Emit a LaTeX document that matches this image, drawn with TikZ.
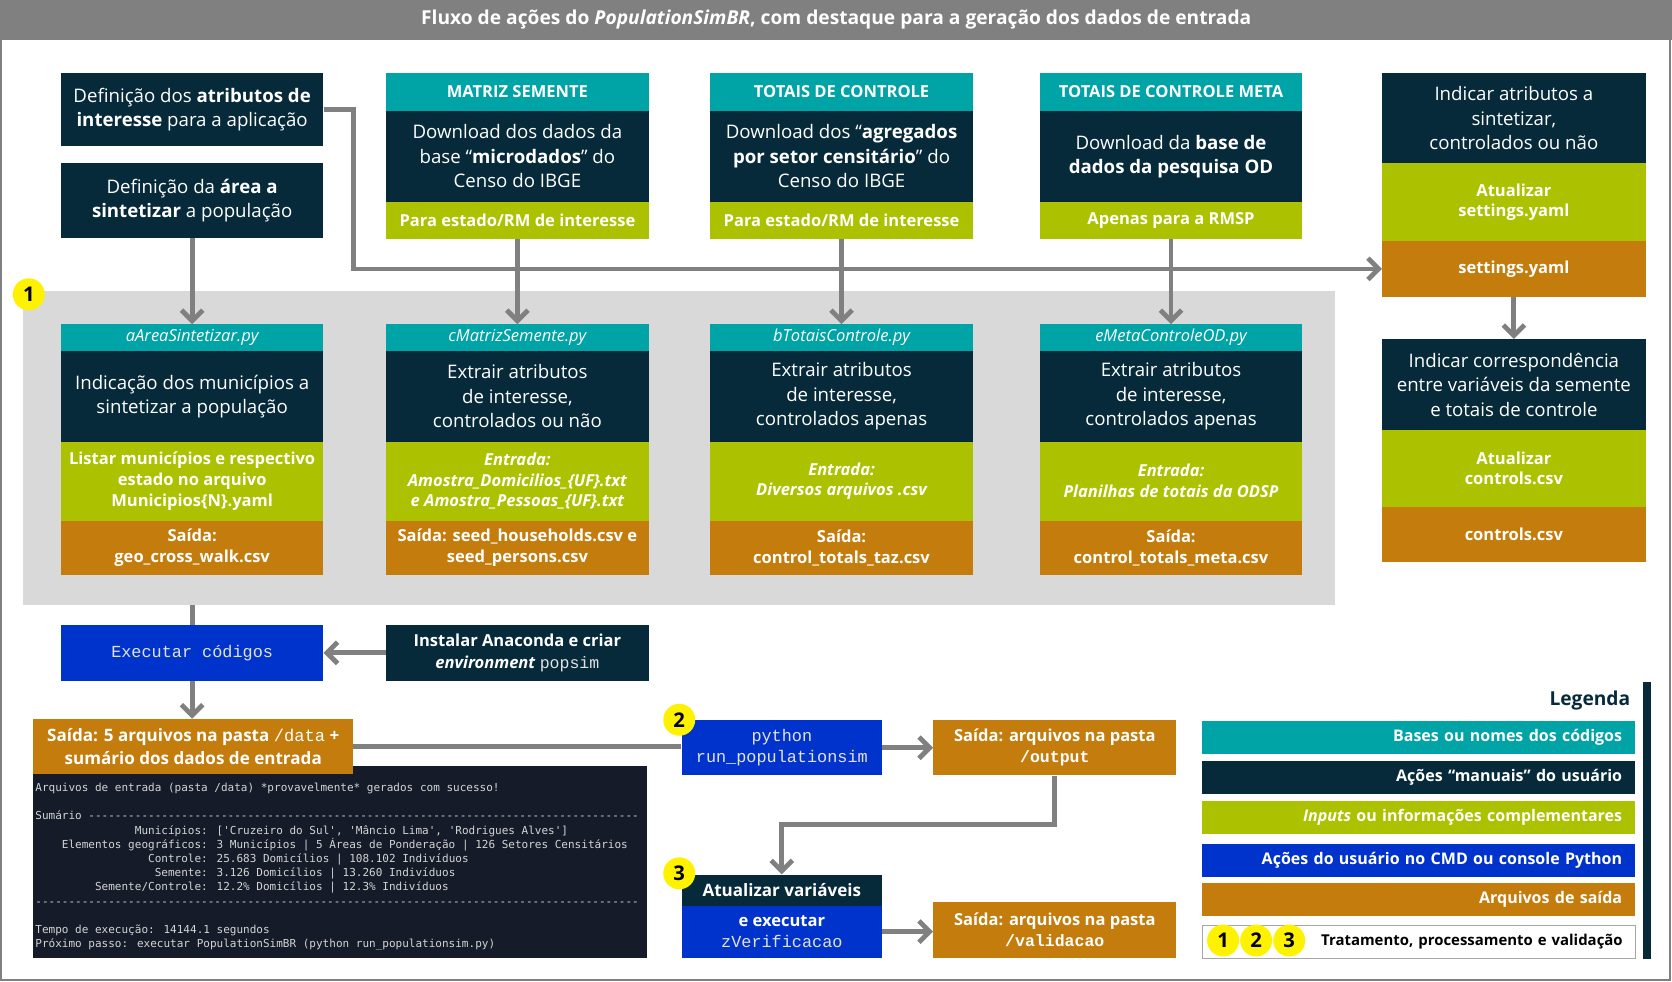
\documentclass[tikz,border=0pt]{standalone}
\usepackage{fontspec}
\setmainfont{Open Sans}
\setmonofont{Liberation Mono}
\newfontfamily\termfont{DejaVu Sans Mono}
\usetikzlibrary{arrows.meta}
\definecolor{cteal}{HTML}{00A4A6}
\definecolor{cnavy}{HTML}{062A3A}
\definecolor{clime}{HTML}{ACC200}
\definecolor{cochre}{HTML}{C47C0C}
\definecolor{cblue}{HTML}{0033CC}
\definecolor{agray}{HTML}{808080}
\definecolor{rgray}{HTML}{D9D9D9}
\definecolor{cterm}{HTML}{151B28}
\definecolor{termtxt}{HTML}{D4D4D4}
\definecolor{monotxt}{HTML}{E2E2E2}
\definecolor{lgborder}{HTML}{A6A6A6}
\newcommand\fs[2]{\fontsize{#1}{#2}\selectfont}
\newcommand\bodyf{\fs{17.5}{23}}
\newcommand\hdrf{\fs{15.5}{19}\bfseries}
\newcommand\sbf{\fs{15.5}{19.5}\bfseries}
\newcommand\itf{\fs{15.5}{19}\itshape}
\newcommand\pad[1]{\hspace*{#1\fontcharwd\font`0}}
\newcommand\dashes[1]{\foreach\i in {1,...,#1}{-}}
\newcommand\mono[1]{{\ttfamily\color{monotxt}#1}}
\tikzset{
  seg/.style={anchor=north west, inner sep=0pt, align=center, text=white},
  col/.style={seg, minimum width=246pt},
  rcol/.style={seg, minimum width=247pt},
  conn/.style={draw=agray, line width=4.5pt},
  arr/.style={conn, -{Straight Barb[length=10pt,width=20pt,line width=4.5pt]}},
  circ/.style={circle, fill=yellow, inner sep=0pt, minimum size=30pt, text=black, font=\fs{19}{19}\bfseries},
  leg/.style={anchor=north west, inner xsep=12pt, inner ysep=0pt, text width=382pt, minimum height=31pt, align=right, text=white, font=\fs{15}{18}\bfseries}
}
\begin{document}
\begin{tikzpicture}[x=1pt,y=-1pt]
\useasboundingbox (0,0) rectangle (1568,920);
% frame and title
\fill[white] (0,0) rectangle (1568,920);
\draw[agray, line width=2pt] (1,37) -- (1,919) -- (1566.5,919) -- (1566.5,37);
\node[anchor=north west, fill=agray, minimum width=1568pt, minimum height=37pt, inner sep=0pt, text=white, font=\fs{18}{20}\bfseries] (title) at (0,0) {Fluxo de ações do \textit{PopulationSimBR}, com destaque para a geração dos dados de entrada};

% region 1
\node[anchor=north west, fill=rgray, minimum width=1231pt, minimum height=294pt, inner sep=0pt] (reg) at (21,273) {};

% top left boxes
\node[col, fill=cnavy, minimum height=69pt, font=\bodyf] (defA) at (57,68) {Definição dos \textbf{atributos de}\\\textbf{interesse} para a aplicação};
\node[col, fill=cnavy, minimum height=70pt, font=\bodyf] (defB) at (57,153) {Definição da \textbf{área a}\\\textbf{sintetizar} a população};

% MATRIZ SEMENTE
\node[col, fill=cteal, minimum height=36pt, font=\hdrf] (msH) at (362,68) {MATRIZ SEMENTE};
\node[col, fill=cnavy, minimum height=85pt, font=\bodyf] (msD) at (362,104) {Download dos dados da\\base “\textbf{microdados}” do\\Censo do IBGE};
\node[col, fill=clime, minimum height=35pt, font=\sbf] (msG) at (362,189) {Para estado/RM de interesse};

% TOTAIS DE CONTROLE
\node[col, fill=cteal, minimum height=36pt, font=\hdrf] (tcH) at (666,68) {TOTAIS DE CONTROLE};
\node[col, fill=cnavy, minimum height=85pt, font=\bodyf] (tcD) at (666,104) {Download dos “\textbf{agregados}\\\textbf{por setor censitário}” do\\Censo do IBGE};
\node[col, fill=clime, minimum height=35pt, font=\sbf] (tcG) at (666,189) {Para estado/RM de interesse};

% TOTAIS DE CONTROLE META
\node[col, fill=cteal, minimum height=36pt, font=\hdrf] (tmH) at (975,68) {TOTAIS DE CONTROLE META};
\node[col, fill=cnavy, minimum height=85pt, font=\bodyf] (tmD) at (975,104) {Download da \textbf{base de}\\\textbf{dados da pesquisa OD}};
\node[col, fill=clime, minimum height=35pt, font=\sbf] (tmG) at (975,189) {Apenas para a RMSP};

% right column
\node[rcol, fill=cnavy, minimum height=85pt, font=\bodyf] (r1D) at (1296,68) {Indicar atributos a\\sintetizar,\\controlados ou não};
\node[rcol, fill=clime, minimum height=73pt, font=\sbf] (r1G) at (1296,153) {Atualizar\\settings.yaml};
\node[rcol, fill=cochre, minimum height=52pt, font=\sbf] (r1O) at (1296,226) {settings.yaml};
\node[rcol, fill=cnavy, minimum height=85pt, font=\bodyf] (r2D) at (1296,318) {Indicar correspondência\\entre variáveis da semente\\e totais de controle};
\node[rcol, fill=clime, minimum height=72pt, font=\sbf] (r2G) at (1296,403) {Atualizar\\controls.csv};
\node[rcol, fill=cochre, minimum height=52pt, font=\sbf] (r2O) at (1296,475) {controls.csv};

% lower boxes in region
\node[col, fill=cteal, minimum height=25pt, font=\itf] (aaH) at (57,304) {aAreaSintetizar.py};
\node[col, fill=cnavy, minimum height=85pt, font=\bodyf] (aaD) at (57,329) {Indicação dos municípios a\\sintetizar a população};
\node[col, fill=clime, minimum height=74pt, font=\sbf] (aaG) at (57,414) {Listar municípios e respectivo\\estado no arquivo\\Municipios\{N\}.yaml};
\node[col, fill=cochre, minimum height=51pt, font=\sbf] (aaO) at (57,488) {Saída:\\geo\_cross\_walk.csv};

\node[col, fill=cteal, minimum height=25pt, font=\itf] (cmH) at (362,304) {cMatrizSemente.py};
\node[col, fill=cnavy, minimum height=85pt, font=\bodyf] (cmD) at (362,329) {Extrair atributos\\de interesse,\\controlados ou não};
\node[col, fill=clime, minimum height=74pt, font=\sbf\itshape] (cmG) at (362,414) {Entrada:\\Amostra\_Domicilios\_\{UF\}.txt\\e Amostra\_Pessoas\_\{UF\}.txt};
\node[col, fill=cochre, minimum height=51pt, font=\sbf] (cmO) at (362,488) {Saída: seed\_households.csv e\\seed\_persons.csv};

\node[col, fill=cteal, minimum height=25pt, font=\itf] (btH) at (666,304) {bTotaisControle.py};
\node[col, fill=cnavy, minimum height=85pt, font=\bodyf] (btD) at (666,329) {Extrair atributos\\de interesse,\\controlados apenas};
\node[col, fill=clime, minimum height=74pt, font=\sbf\itshape] (btG) at (666,414) {Entrada:\\Diversos arquivos .csv};
\node[col, fill=cochre, minimum height=51pt, font=\sbf] (btO) at (666,488) {Saída:\\control\_totals\_taz.csv};

\node[col, fill=cteal, minimum height=25pt, font=\itf] (emH) at (975,304) {eMetaControleOD.py};
\node[col, fill=cnavy, minimum height=85pt, font=\bodyf] (emD) at (975,329) {Extrair atributos\\de interesse,\\controlados apenas};
\node[col, fill=clime, minimum height=74pt, font=\sbf\itshape] (emG) at (975,414) {Entrada:\\Planilhas de totais da ODSP};
\node[col, fill=cochre, minimum height=51pt, font=\sbf] (emO) at (975,488) {Saída:\\control\_totals\_meta.csv};

\node[circ] (n1) at (27,276) {1};

% top connectors
\draw[arr] (defA.east) -- ++(28,0) |- (r1O.west);
\draw[arr] (defB.south) -- (aaH.north);
\draw[arr] (msG.south) -- (cmH.north);
\draw[arr] (tcG.south) -- (btH.north);
\draw[arr] (tmG.south) -- (emH.north);
\draw[arr] (r1O.south) -- (r2D.north);

% execution row
\node[col, fill=cblue, minimum height=52pt, font=\fs{15.8}{18}] (exec) at (57,586) {\mono{Executar códigos}};
\node[col, fill=cnavy, minimum height=52pt, font=\fs{15.5}{20}\bfseries] (inst) at (362,586) {Instalar Anaconda e criar\\\textit{environment} {\mdseries\fs{15.5}{20}\mono{popsim}}};
\draw[conn] (reg.south -| exec.north) -- (exec.north);
\draw[arr] (inst.west) -- (exec.east);

% terminal
\node[anchor=north west, fill=cterm, minimum width=576pt, minimum height=180pt, inner sep=0pt] (term) at (31,718) {};
\node[anchor=north west, inner sep=0pt, align=left, text=termtxt, font=\termfont\fs{10.33}{13.35}] (termtext) at (33,734) {%
Arquivos de entrada (pasta /data) *provavelmente* gerados com sucesso!\\
\mbox{}\\
Sumário \dashes{83}\\
\pad{15}Municípios: ['Cruzeiro do Sul', 'Mâncio Lima', 'Rodrigues Alves']\\
\pad{4}Elementos geográficos: 3 Municípios | 5 Áreas de Ponderação | 126 Setores Censitários\\
\pad{17}Controle: 25.683 Domicílios | 108.102 Indivíduos\\
\pad{18}Semente: 3.126 Domicílios | 13.260 Indivíduos\\
\pad{9}Semente/Controle: 12.2\% Domicílios | 12.3\% Indivíduos\\
\dashes{91}\\
\mbox{}\\
Tempo de execução: 14144.1 segundos\\
Próximo passo: executar PopulationSimBR (python run\_populationsim.py)};

\node[seg, fill=cochre, minimum width=300pt, minimum height=52pt, font=\fs{16}{21}\bfseries] (s5) at (31,674) {Saída: 5 arquivos na pasta {\ttfamily\mdseries /data} +\\sumário dos dados de entrada};
\draw[arr] (exec.south) -- (exec.south |- s5.north);

% python and outputs
\node[seg, fill=cblue, minimum width=188pt, minimum height=52pt, font=\fs{15.8}{19}] (py) at (639,675) {\mono{python}\\\mono{run\_populationsim}};
\node[seg, fill=cochre, minimum width=228pt, minimum height=52pt, font=\fs{15.5}{20}\bfseries] (out) at (875,675) {Saída: arquivos na pasta\\{\ttfamily /output}};
\node[seg, fill=cnavy, minimum width=188pt, minimum height=29pt, font=\fs{16}{19}\bfseries] (atH) at (639,820) {Atualizar variáveis};
\node[seg, fill=cblue, minimum width=188pt, minimum height=49pt, font=\fs{15.5}{19}\bfseries] (atB) at (639,849) {e executar\\{\mdseries\fs{15.8}{19}\mono{zVerificacao}}};
\node[seg, fill=cochre, minimum width=228pt, minimum height=52pt, font=\fs{15.5}{20}\bfseries] (val) at (875,846) {Saída: arquivos na pasta\\{\ttfamily /validacao}};

\draw[conn] (s5.east) -- (s5.east -| py.west);
\draw[arr] (py.east) -- (py.east -| out.west);
\draw[arr] (out.south) -- ++(0,46) -| (atH.north);
\draw[arr] (atB.east) -- (atB.east -| val.west);

\node[circ] (n2) at (637,675) {2};
\node[circ] (n3) at (637,819) {3};

% legend
\fill[cnavy] (1541,640) rectangle (1548,899);
\node[anchor=east, inner sep=0pt, text=cnavy, font=\fs{18}{20}\bfseries] (legT) at (1529,657) {Legenda};
\node[leg, fill=cteal] (lg1) at (1127,676) {Bases ou nomes dos códigos};
\node[leg, fill=cnavy] (lg2) at (1127,713) {Ações “manuais” do usuário};
\node[leg, fill=clime] (lg3) at (1127,751) {\textit{Inputs} ou informações complementares};
\node[leg, fill=cblue] (lg4) at (1127,791) {Ações do usuário no CMD ou console Python};
\node[leg, fill=cochre] (lg5) at (1127,828) {Arquivos de saída};
\node[leg, fill=white, draw=lgborder, line width=1.5pt, text=black, font=\fs{14}{18}\bfseries] (lg6) at (1127,867) {Tratamento, processamento e validação};
\node[circ] (lc1) at (1147,882) {1};
\node[circ] (lc2) at (1178,882) {2};
\node[circ] (lc3) at (1209,882) {3};
\end{tikzpicture}
\end{document}
